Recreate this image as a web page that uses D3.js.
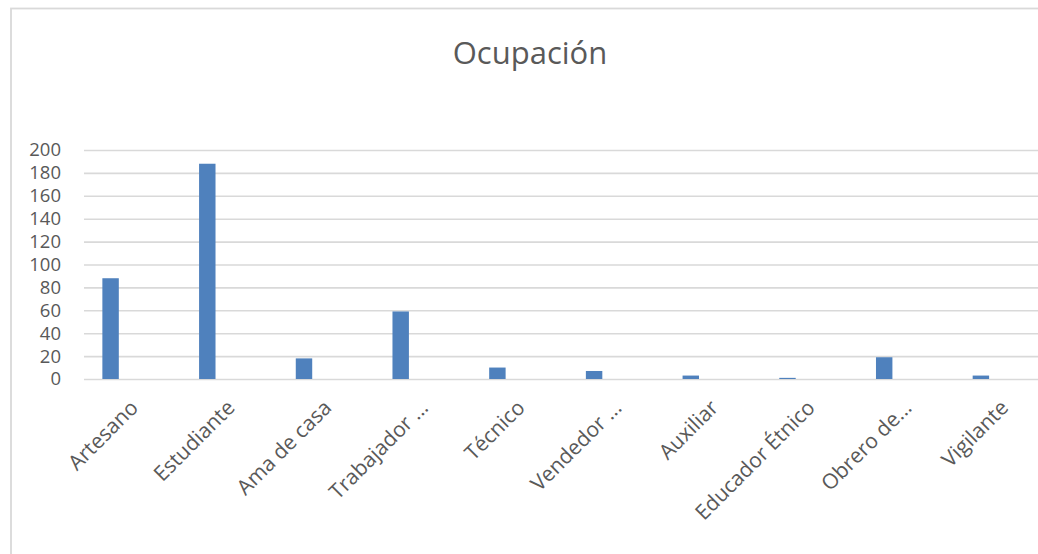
<!DOCTYPE html>
<html>
<head>
<meta charset="utf-8">
<script src="https://cdnjs.cloudflare.com/ajax/libs/d3/7.8.5/d3.min.js"></script>
<style>
  body { margin: 0; background: #fff; }
  svg { display: block; font-family: "Open Sans", "Noto Sans", sans-serif; }
</style>
</head>
<body>
<script>
var categories = ["Artesano", "Estudiante", "Ama de casa", "Trabajador ...", "Técnico",
  "Vendedor ...", "Auxiliar", "Educador Étnico", "Obrero de...", "Vigilante"];
var values = [88, 188, 18, 59, 10, 7, 3, 1, 19, 3];
var yTicks = [0, 20, 40, 60, 80, 100, 120, 140, 160, 180, 200];
var title = "Ocupación";

var width = 1038, height = 554;
var plotLeft = 84, plotTop = 150, plotBottom = 379, plotRight = 1051;

var svg = d3.select("body").append("svg").attr("width", width).attr("height", height);

// chart frame
svg.append("rect")
  .attr("x", 11).attr("y", 8.5)
  .attr("width", 1100).attr("height", 700)
  .attr("fill", "#fff")
  .attr("stroke", "#d9d9d9")
  .attr("stroke-width", 1.8);

svg.append("text")
  .attr("x", 530).attr("y", 64)
  .attr("text-anchor", "middle")
  .style("font-size", "31px")
  .style("fill", "#595959")
  .text(title);

var x = d3.scaleBand().domain(categories).range([plotLeft, plotRight]).padding(0);
var y = d3.scaleLinear().domain([0, 200]).range([plotBottom, plotTop]);

// gridlines
svg.append("g")
  .attr("transform", "translate(" + plotLeft + ",0)")
  .call(d3.axisLeft(y).tickValues(yTicks).tickSize(-(plotRight - plotLeft)).tickFormat(""))
  .call(function(g) { g.select(".domain").remove(); })
  .selectAll("line")
  .attr("stroke", "#d9d9d9")
  .attr("stroke-width", 1.6);

// y labels
var ya = svg.append("g")
  .attr("transform", "translate(" + plotLeft + ",0)")
  .call(d3.axisLeft(y).tickValues(yTicks).tickSize(0).tickPadding(23));
ya.select(".domain").remove();
ya.selectAll("text")
  .style("font-size", "18.5px")
  .style("font-family", "'Open Sans', 'Noto Sans', sans-serif")
  .attr("fill", "#595959");

// bars
var bw = x.bandwidth();
svg.selectAll("rect.bar").data(values).enter().append("rect")
  .attr("class", "bar")
  .attr("x", function(d, i) { return x(categories[i]) + bw * 0.19; })
  .attr("width", bw * 0.17)
  .attr("y", function(d) { return y(d); })
  .attr("height", function(d) { return y(0) - y(d); })
  .attr("fill", "#4f81bd");

// category labels
svg.selectAll("text.cat").data(categories).enter().append("text")
  .attr("class", "cat")
  .attr("transform", function(d) {
    return "translate(" + (x(d) + bw / 2 + 7) + ",409) rotate(-45)";
  })
  .attr("text-anchor", "end")
  .style("font-size", "21px")
  .style("fill", "#595959")
  .text(function(d) { return d; });
</script>
</body>
</html>
